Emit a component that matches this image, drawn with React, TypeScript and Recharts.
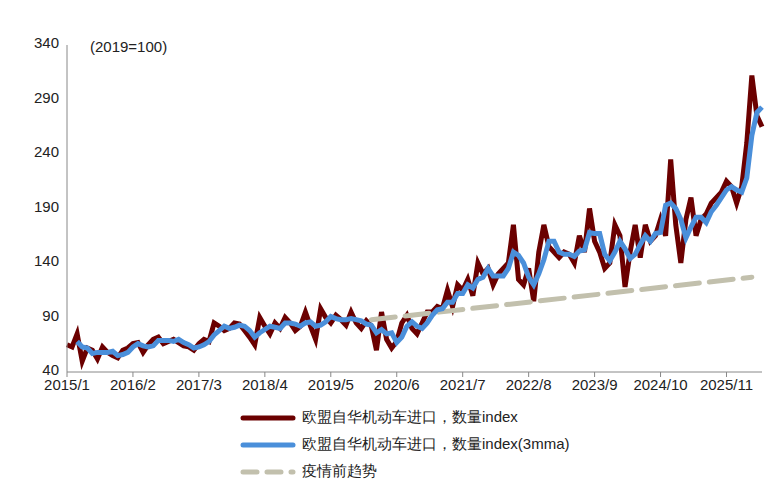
import React from "react";
import { Line, LineChart, XAxis, YAxis } from "recharts";

const startYear = 2015;

const importIndex = [
  65, 63, 75, 50, 62, 60, 52, 63, 58, 55, 53, 60,
  62, 66, 67, 58, 65, 70, 72, 66, 68, 70, 67, 64,
  63, 60, 66, 70, 68, 85, 82, 78, 80, 85, 84, 78,
  72, 65, 90, 82, 75, 85, 80, 90, 85, 78, 82, 95,
  82, 70, 98, 90, 85, 92, 88, 83, 95, 85, 80, 87,
  82, 60, 95, 70, 62, 68, 85, 92, 80, 75, 85, 95,
  95, 100, 98, 115, 100, 120, 115, 125, 110, 140, 130, 135,
  120, 130, 135, 140, 175, 125, 120, 135, 105, 150, 175, 155,
  150, 145, 150, 148, 140, 165, 150, 190, 160, 150, 135, 140,
  175, 165, 118, 150, 175, 145, 175, 160, 165, 180, 165, 235,
  175, 140, 180, 200, 165, 180, 185, 195, 200, 205, 215, 210,
  195, 210, 250, 312, 275, 265,
];

const importIndex3mma: (number | null)[] = [
  null, null, 68, 63, 62, 57, 58, 58, 58, 59, 55, 56,
  58, 63, 66, 64, 63, 64, 69, 69, 69, 68, 70, 67,
  65, 62, 63, 65, 68, 74, 78, 82, 80, 81, 83, 82,
  78, 72, 76, 79, 82, 81, 80, 85, 85, 84, 82, 85,
  86, 82, 83, 86, 91, 89, 88, 88, 89, 88, 87, 84,
  83, 76, 79, 75, 76, 67, 72, 82, 86, 82, 80, 85,
  92, 97, 98, 104, 104, 112, 112, 120, 117, 125, 127, 135,
  128, 128, 128, 135, 150, 147, 140, 127, 120, 130, 143, 160,
  160, 150, 148, 148, 146, 151, 152, 168, 167, 167, 148, 142,
  150, 160, 153, 144, 148, 157, 165, 160, 167, 168, 193, 195,
  190, 180, 163, 173, 182, 182, 177, 187, 193, 200, 207, 210,
  207, 205, 218, 257, 278, 283,
];

// pre-pandemic trend: from 2020/1 to 2026/4
const trendStart = { idx: 60, value: 88 };
const trendEnd = { idx: 135, value: 127 };

const yTicks = [40, 90, 140, 190, 240, 290, 340];

const data = importIndex.map((v, i) => ({
  month: `${startYear + Math.floor(i / 12)}/${(i % 12) + 1}`,
  raw: v,
  mma: importIndex3mma[i],
  trend:
    i === trendStart.idx ? trendStart.value : i === trendEnd.idx ? trendEnd.value : null,
}));

const font = "'Liberation Sans', Arial, sans-serif";

const legendItems = [
  { label: "欧盟自华机动车进口，数量index", color: "#6b0000", dash: false },
  { label: "欧盟自华机动车进口，数量index(3mma)", color: "#4a8fda", dash: false },
  { label: "疫情前趋势", color: "#c2c0ad", dash: true },
];

export default function App() {
  return (
    <div style={{ position: "absolute", left: 0, top: 0, width: 777, height: 494, background: "#fff", fontFamily: font }}>
      <LineChart
        width={777}
        height={494}
        data={data}
        margin={{ top: 45, right: 15, left: 17, bottom: 97 }}
      >
        <XAxis
          dataKey="month"
          interval={12}
          tick={{ fill: "#222", fontSize: 15, fontFamily: font }}
          stroke="#888"
          tickSize={5}
          height={25}
        />
        <YAxis
          domain={[40, 340]}
          ticks={yTicks}
          width={50}
          tick={{ fill: "#222", fontSize: 15, fontFamily: font, dy: -2 }}
          stroke="#888"
          tickLine={false}
        />
        <Line
          dataKey="raw"
          stroke="#6b0000"
          strokeWidth={5}
          dot={false}
          type="linear"
          isAnimationActive={false}
        />
        <Line
          dataKey="trend"
          stroke="#c2c0ad"
          strokeWidth={5}
          strokeDasharray="24 10"
          strokeLinecap="round"
          dot={false}
          connectNulls
          isAnimationActive={false}
        />
        <Line
          dataKey="mma"
          stroke="#4a8fda"
          strokeWidth={5}
          dot={false}
          type="linear"
          connectNulls
          isAnimationActive={false}
        />
      </LineChart>
      <div style={{ position: "absolute", left: 90, top: 38, fontSize: 15, color: "#222" }}>(2019=100)</div>
      <div style={{ position: "absolute", left: 240, top: 404 }}>
        {legendItems.map((it) => (
          <div key={it.label} style={{ display: "flex", alignItems: "center", height: 27, fontSize: 15, color: "#222" }}>
            <svg width={56} height={8} style={{ marginRight: 6 }}>
              <line
                x1={3}
                y1={4}
                x2={53}
                y2={4}
                stroke={it.color}
                strokeWidth={5}
                strokeLinecap="round"
                strokeDasharray={it.dash ? "14 10" : undefined}
              />
            </svg>
            {it.label}
          </div>
        ))}
      </div>
    </div>
  );
}
